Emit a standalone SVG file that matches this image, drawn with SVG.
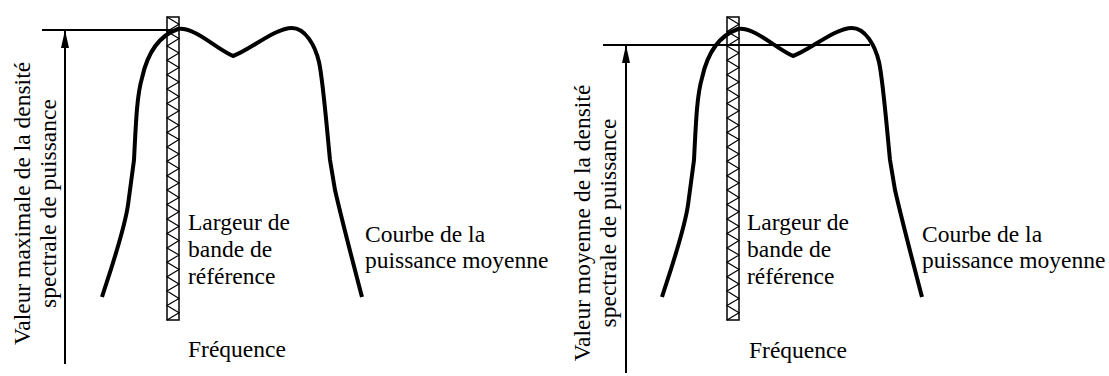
<svg xmlns="http://www.w3.org/2000/svg" width="1109" height="376" viewBox="0 0 1109 376">
<style>
  .t { font-size: 23.5px; fill: #000; }
  .curve { fill: none; stroke: #000; stroke-width: 4; stroke-linejoin: round; stroke-linecap: butt; }
  .ln { fill: none; stroke: #000; stroke-width: 2; }
  .box { fill: #fff; stroke: #000; stroke-width: 1.5; }
  .zz { fill: none; stroke: #000; stroke-width: 1.2; stroke-linejoin: miter; }
</style>
<defs>
  <marker id="arr" viewBox="0 0 18 8" refX="18" refY="4" markerWidth="18" markerHeight="8" markerUnits="userSpaceOnUse" orient="auto">
    <path d="M0,0 L18,4 L0,8 Z" fill="#000"/>
  </marker>
  <path id="zig" d="M167,17 L179,24.2 L167,31.4 L179,38.6 L167,45.9 L179,53.1 L167,60.3 L179,67.5 L167,74.7 L179,81.9 L167,89.1 L179,96.4 L167,103.6 L179,110.8 L167,118 L179,125.2 L167,132.4 L179,139.6 L167,146.9 L179,154.1 L167,161.3 L179,168.5 L167,175.7 L179,182.9 L167,190.1 L179,197.4 L167,204.6 L179,211.8 L167,219 L179,226.2 L167,233.4 L179,240.6 L167,247.9 L179,255.1 L167,262.3 L179,269.5 L167,276.7 L179,283.9 L167,291.1 L179,298.4 L167,305.6 L179,312.8 L167,320"/>
  <path id="psd" d="M102,297 C110,272 124,232 128,205 L134,160 C136,120 137,95 142,78 C147,55 158,36 178,29 C195,27 215,48 233,56 C250,50 275,28 292,28 C305,28 315,45 319,62 C323,80 327,130 330,160 L335,190 C343,225 355,270 362,297"/>
</defs>

<g id="left-panel" font-family="Liberation Serif, Times New Roman, serif">
  <g id="left-band">
    <rect class="box" x="167" y="17" width="12" height="303"/>
    <use href="#zig" class="zz"/>
  </g>
  <g id="left-curve">
    <use href="#psd" class="curve"/>
  </g>
  <g id="left-axis">
    <line class="ln" x1="42" y1="30" x2="172" y2="30"/>
    <line class="ln" x1="65" y1="364" x2="65" y2="30" marker-end="url(#arr)"/>
  </g>
  <g id="left-ylabel">
    <text class="t" transform="translate(30,203.5) rotate(-90)" text-anchor="middle">Valeur maximale de la densité</text>
    <text class="t" transform="translate(56,203.5) rotate(-90)" text-anchor="middle">spectrale de puissance</text>
  </g>
  <g id="left-band-label">
    <text class="t" x="188" y="230">Largeur de</text>
    <text class="t" x="188" y="257">bande de</text>
    <text class="t" x="188" y="284">référence</text>
  </g>
  <g id="left-curve-label">
    <text class="t" x="365" y="242">Courbe de la</text>
    <text class="t" x="365" y="268">puissance moyenne</text>
  </g>
  <g id="left-xlabel">
    <text class="t" x="188" y="357">Fréquence</text>
  </g>
</g>

<g id="right-panel" font-family="Liberation Serif, Times New Roman, serif">
  <g id="right-band">
    <rect class="box" x="727" y="17" width="12" height="303"/>
    <use href="#zig" class="zz" transform="translate(560,0)"/>
  </g>
  <g id="right-curve">
    <use href="#psd" class="curve" transform="translate(560,0)"/>
  </g>
  <g id="right-axis">
    <line class="ln" x1="603" y1="45" x2="870" y2="45"/>
    <line class="ln" x1="626" y1="373" x2="626" y2="45" marker-end="url(#arr)"/>
  </g>
  <g id="right-ylabel">
    <text class="t" transform="translate(590,223) rotate(-90)" text-anchor="middle">Valeur moyenne de la densité</text>
    <text class="t" transform="translate(616,223) rotate(-90)" text-anchor="middle">spectrale de puissance</text>
  </g>
  <g id="right-band-label">
    <text class="t" x="747" y="230">Largeur de</text>
    <text class="t" x="747" y="257">bande de</text>
    <text class="t" x="747" y="284">référence</text>
  </g>
  <g id="right-curve-label">
    <text class="t" x="922" y="242">Courbe de la</text>
    <text class="t" x="922" y="268">puissance moyenne</text>
  </g>
  <g id="right-xlabel">
    <text class="t" x="749" y="358">Fréquence</text>
  </g>
</g>
</svg>
